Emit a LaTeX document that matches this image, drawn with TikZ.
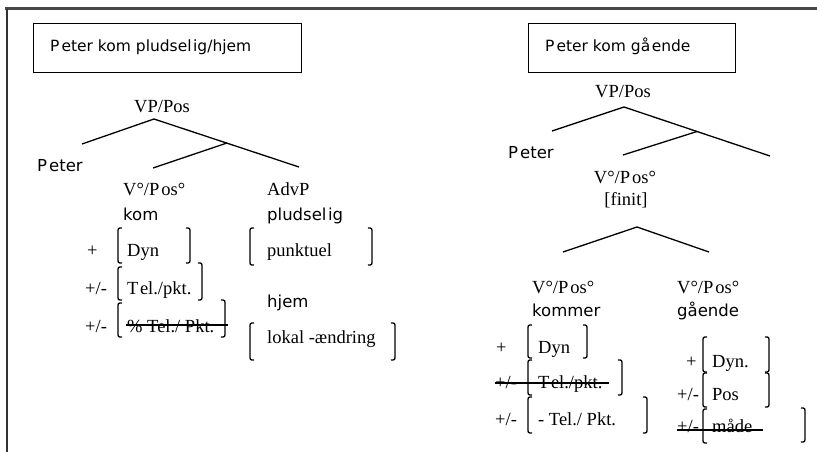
\documentclass[tikz,border=0pt]{standalone}
\usepackage{fontspec}
\setmainfont{Liberation Serif}
\newfontfamily\lsans{DejaVu Sans}
\newcommand\brL[3]{\draw[brk] ({#1+4},#2) .. controls (#1,#2) .. (#1,{#2+5}) -- (#1,{#3-5}) .. controls (#1,#3) .. ({#1+4},#3);}
\newcommand\brR[3]{\draw[brk] ({#1-4},#2) .. controls (#1,#2) .. (#1,{#2+5}) -- (#1,{#3-5}) .. controls (#1,#3) .. ({#1-4},#3);}
\begin{document}
\begin{tikzpicture}[x=1pt,y=-1pt,
  sr/.style={font=\fontsize{18.5}{20}\selectfont, inner sep=0pt, anchor=base west},
  src/.style={sr, anchor=base},
  sn/.style={font=\lsans\fontsize{16.5}{18}\selectfont, inner sep=0pt, anchor=base west},
  tt/.style={font=\lsans\fontsize{15.5}{17}\selectfont, inner sep=0pt, anchor=base west},
  treeline/.style={line width=1.3pt},
  brk/.style={line width=1.3pt},
  strike/.style={line width=1.6pt},
  titlebox/.style={draw, line width=1pt, anchor=north west, inner sep=0pt}]
\useasboundingbox (0,0) rectangle (817,452);
\fill[white] (0,0) rectangle (817,452);
% frame
\draw[line width=2.5pt, black!72] (5,8.5) -- (817,8.5);
\draw[line width=1.6pt, black!80] (7,9) -- (7,452);

% ---------- left diagram ----------
\node[titlebox, minimum width=268pt, minimum height=49pt] (box1) at (33,23) {};
\node[tt] (t1) at (50,52) {P\kern2pt eter kom pludsel\kern1.5pt ig/hjem};

\node[src] (vp1) at (162,112) {VP/Pos};
\coordinate (a1) at (154,119);
\coordinate (a1l) at (82,144);
\coordinate (a1r) at (299,167);
\coordinate (a1b) at (227,143);
\coordinate (a1bl) at (153,168);
\draw[treeline] (a1l) -- (a1) -- (a1r);
\draw[treeline] (a1b) -- (a1bl);

\node[sn] (p1) at (37,171) {P\kern2pt eter};
\node[sr] (v1) at (123,195) {V°/P\kern2pt os°};
\node[sn] (kom) at (123,220) {kom};
\node[sr] (adv) at (267,195) {AdvP};
\node[sn] (plud) at (267,220) {pludsel\kern1.5pt ig};

\node[sr] (pl1) at (87,256) {+};
\node[sr] (dyn1) at (127,256) {Dyn};
\brL{118}{228}{263} \brR{190}{228}{263}
\node[sr] (pm1) at (85,294) {+/-};
\node[sr] (tel1) at (127,294) {T\kern1.5pt el./pkt.};
\brL{118}{267}{300} \brR{202}{263}{300}
\node[sr] (pm2) at (85,332) {+/-};
\node[sr] (tel2) at (127,332) {\% Tel./ Pkt.};
\brL{118}{303}{337} \brR{225}{300}{337}
\coordinate (s1a) at (126,325);
\coordinate (s1b) at (228,325);
\draw[strike] (s1a) -- (s1b);

\node[sr] (punk) at (267,256) {punktuel};
\brL{250}{228}{265} \brR{372}{228}{265}
\node[sn] (hjem) at (267,307) {hjem};
\node[sr] (lok) at (267,343) {lokal -ændring};
\brL{250}{323}{360} \brR{395}{323}{360}

% ---------- right diagram ----------
\node[titlebox, minimum width=207pt, minimum height=49pt] (box2) at (528,23) {};
\node[tt] (t2) at (545,52) {P\kern2pt eter kom gå\kern1.5pt ende};

\node[src] (vp2) at (623,97) {VP/Pos};
\coordinate (a2) at (624,107);
\coordinate (a2l) at (552,131);
\coordinate (a2r) at (770,156);
\coordinate (a2b) at (697,131.5);
\coordinate (a2bl) at (623,155);
\draw[treeline] (a2l) -- (a2) -- (a2r);
\draw[treeline] (a2b) -- (a2bl);

\node[sn] (p2) at (508,158) {P\kern2pt eter};
\node[src] (v2) at (625,183) {V°/P\kern2pt os°};
\node[src] (fin) at (626,205) {[finit]};

\coordinate (a3) at (637,227);
\coordinate (a3l) at (563,252);
\coordinate (a3r) at (709,252);
\draw[treeline] (a3l) -- (a3) -- (a3r);

\node[sr] (v3) at (532,293) {V°/P\kern2pt os°};
\node[sn] (kommer) at (532,316) {kommer};
\node[sr] (v4) at (677,293) {V°/P\kern2pt os°};
\node[sn] (gaaende) at (677,316) {gående};

\node[sr] (pl3) at (496,353) {+};
\node[sr] (dyn3) at (538,353) {Dyn};
\brL{528}{325}{358} \brR{587}{325}{358}
\node[sr] (pm3) at (495,388) {+/-};
\node[sr] (tel3) at (538,388) {T\kern1.5pt el./pkt.};
\brL{528}{360}{395} \brR{622}{360}{395}
\coordinate (s3a) at (495,383);
\coordinate (s3b) at (609,383);
\draw[strike] (s3a) -- (s3b);
\node[sr] (pm4) at (495,425) {+/-};
\node[sr] (tel4) at (538,425) {- Tel./ Pkt.};
\brL{528}{397}{433} \brR{647}{397}{433}

\node[sr] (pl5) at (686,367) {+};
\node[sr] (dyn5) at (712,367) {Dyn.};
\brL{703}{337}{372} \brR{769}{337}{372}
\node[sr] (pm5) at (677,400) {+/-};
\node[sr] (pos5) at (712,400) {Pos};
\brL{703}{373}{407} \brR{769}{373}{407}
\node[sr] (pm6) at (677,432) {+/-};
\node[sr] (maade) at (712,432) {måde};
\brL{703}{409}{443} \brR{805}{408}{442}
\coordinate (s6a) at (677,430);
\coordinate (s6b) at (763,430);
\draw[strike] (s6a) -- (s6b);
\end{tikzpicture}
\end{document}
